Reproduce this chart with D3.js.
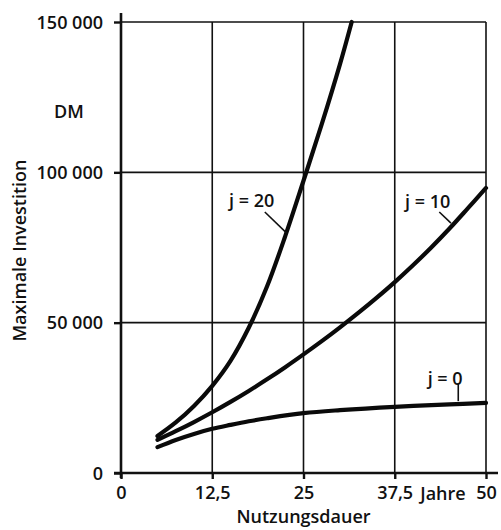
<!DOCTYPE html>
<html>
<head>
<meta charset="utf-8">
<script src="https://cdn.jsdelivr.net/npm/d3@7"></script>
<style>
  html, body { margin: 0; padding: 0; background: #fff; }
  text { font-family: "Open Sans", "DejaVu Sans", sans-serif; font-weight: 600; fill: #111; }
</style>
</head>
<body>
<svg id="chart" width="501" height="530"></svg>
<script>
// ---- data ----
const yearsJ0  = [5, 7.5, 10, 12.5, 15, 17.5, 20, 25, 30, 37.5, 45, 50];
const valuesJ0 = [8600, 11000, 13000, 14700, 16000, 17200, 18200, 19900, 20900, 22000, 22800, 23300];

const yearsJ10  = [5, 7.5, 10, 12.5, 15, 17.5, 20, 22.5, 25, 27.5, 30, 32.5, 35, 37.5, 40, 42.5, 45, 47.5, 50];
const valuesJ10 = [11000, 13900, 16950, 20200, 23650, 27300, 31150, 35200, 39450, 43850, 48450, 53250, 58250, 63500, 69100, 75000, 81300, 88000, 94800];

const yearsJ20  = [5, 7.5, 10, 12.5, 15, 17.5, 20, 22.5, 25, 27.5, 30, 31.6];
const valuesJ20 = [12300, 16800, 22300, 29000, 37300, 48300, 62000, 78800, 97200, 116000, 136000, 150000];

const seriesNames = ["j = 0", "j = 10", "j = 20"];

const xTicks = [0, 12.5, 25, 37.5, 50];
const xTickLabels = ["0", "12,5", "25", "37,5", "50"];
const yTicks = [0, 50000, 100000, 150000];
const yTickLabels = ["0", "50 000", "100 000", "150 000"];

const xTitle = "Nutzungsdauer";
const yTitle = "Maximale Investition";
const yUnit = "DM";
const xUnit = "Jahre";

// ---- scales ----
const svg = d3.select("#chart");
const x = d3.scaleLinear().domain([0, 50]).range([121, 486]);
const y = d3.scaleLinear().domain([0, 150000]).range([473, 22]);

// ---- grid ----
const grid = svg.append("g").attr("stroke", "#111").attr("stroke-width", 1.6);
grid.selectAll("line.v").data(xTicks.slice(1)).join("line")
  .attr("x1", d => x(d)).attr("x2", d => x(d))
  .attr("y1", y(0)).attr("y2", y(150000));
grid.selectAll("line.h").data(yTicks.slice(1)).join("line")
  .attr("x1", x(0)).attr("x2", x(50))
  .attr("y1", d => y(d)).attr("y2", d => y(d));

// ---- axes ----
const yAxis = d3.axisLeft(y).tickValues(yTicks).tickSize(7).tickPadding(11)
  .tickFormat((d, i) => yTickLabels[i]);
const gy = svg.append("g").attr("transform", `translate(${x(0)},0)`).call(yAxis);
gy.select(".domain").remove();
gy.selectAll(".tick line").attr("stroke", "#111").attr("stroke-width", 2.4);
gy.selectAll(".tick text").style("font-size", "18px").attr("dy", "0.34em");

const xAxis = d3.axisBottom(x).tickValues(xTicks).tickSize(6).tickPadding(7)
  .tickFormat((d, i) => xTickLabels[i]);
const gx = svg.append("g").attr("transform", `translate(0,${y(0)})`).call(xAxis);
gx.select(".domain").remove();
gx.selectAll(".tick line").attr("stroke", "#111").attr("stroke-width", 2.4);
gx.selectAll(".tick text").style("font-size", "18px");

// axis lines
svg.append("line").attr("x1", x(0)).attr("x2", x(0))
  .attr("y1", y(150000) - 9).attr("y2", y(0) + 5)
  .attr("stroke", "#111").attr("stroke-width", 2.6);
svg.append("line").attr("x1", x(0) - 7).attr("x2", x(50) + 12)
  .attr("y1", y(0)).attr("y2", y(0))
  .attr("stroke", "#111").attr("stroke-width", 2.6);

// ---- curves ----
const line = d3.line().x(d => x(d[0])).y(d => y(d[1])).curve(d3.curveCatmullRom.alpha(0.5));
const series = [
  yearsJ0.map((t, i) => [t, valuesJ0[i]]),
  yearsJ10.map((t, i) => [t, valuesJ10[i]]),
  yearsJ20.map((t, i) => [t, valuesJ20[i]])
];
svg.append("g").selectAll("path").data(series).join("path")
  .attr("d", line)
  .attr("fill", "none").attr("stroke", "#0a0a0a")
  .attr("stroke-width", 4.2).attr("stroke-linecap", "round").attr("stroke-linejoin", "round");

// ---- curve labels with leader lines (data coords) ----
const labels = [
  { text: seriesNames[2], tx: 17.9, ty: 88500, l: [[19.7, 86800], [22.7, 79800]] },
  { text: seriesNames[1], tx: 42.0, ty: 88100, l: [[43.6, 86800], [45.2, 83100]] },
  { text: seriesNames[0], tx: 44.4, ty: 29300, l: [[46.2, 29900], [46.2, 23900]] }
];
const lg = svg.append("g");
labels.forEach(d => {
  lg.append("text").attr("x", x(d.tx)).attr("y", y(d.ty))
    .attr("text-anchor", "middle").style("font-size", "18px").text(d.text);
  lg.append("line").attr("x1", x(d.l[0][0])).attr("y1", y(d.l[0][1]))
    .attr("x2", x(d.l[1][0])).attr("y2", y(d.l[1][1]))
    .attr("stroke", "#111").attr("stroke-width", 1.6);
});

// ---- titles ----
svg.append("text").attr("x", 69).attr("y", y(118000))
  .attr("text-anchor", "middle").style("font-size", "18px").text(yUnit);
svg.append("text").attr("x", 443).attr("y", y(0) + 27)
  .attr("text-anchor", "middle").style("font-size", "18px").text(xUnit);
svg.append("text").attr("x", x(25)).attr("y", 523)
  .attr("text-anchor", "middle").style("font-size", "18px").text(xTitle);
svg.append("text").attr("transform", `translate(26,${y(74000)}) rotate(-90)`)
  .attr("text-anchor", "middle").style("font-size", "18px").text(yTitle);
</script>
</body>
</html>
